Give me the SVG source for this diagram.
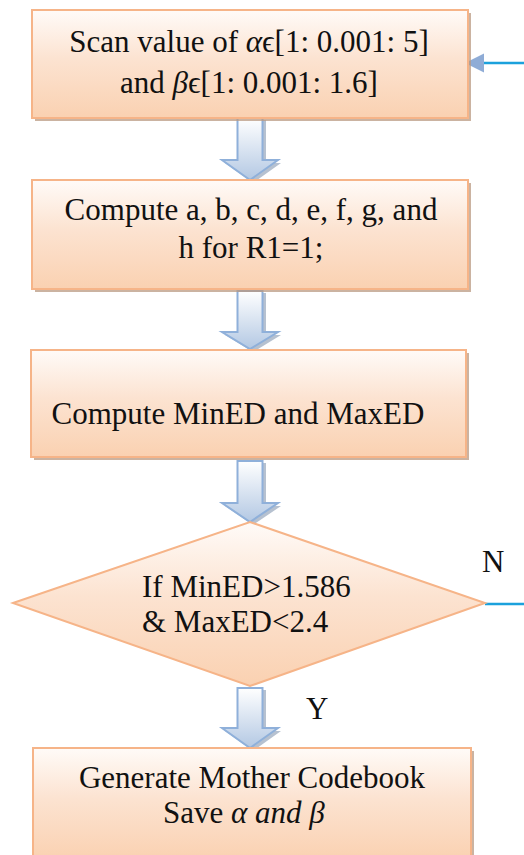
<svg xmlns="http://www.w3.org/2000/svg" width="524" height="855" viewBox="0 0 524 855">
<defs>
<linearGradient id="boxg" x1="0" y1="0" x2="0" y2="1">
<stop offset="0" stop-color="#FFFBF8"/>
<stop offset="0.45" stop-color="#FCE3D1"/>
<stop offset="1" stop-color="#FAD1B1"/>
</linearGradient>
<linearGradient id="arrg" x1="0" y1="0" x2="0" y2="1">
<stop offset="0" stop-color="#FFFFFF"/>
<stop offset="1" stop-color="#B3C8E3"/>
</linearGradient>
<style>
.box{fill:url(#boxg);stroke:#F6B488;stroke-width:2}
.shadow{fill:#B99A82;opacity:0.75}
.arr{fill:url(#arrg);stroke:#8FB0DA;stroke-width:2;stroke-linejoin:miter}
.arrsh{fill:#8597B0;opacity:0.6}
.t{font-family:"Liberation Serif","DejaVu Serif",serif;font-size:31px;fill:#111}
.m{font-family:"Liberation Serif","DejaVu Serif",serif;font-style:italic}
.conn{stroke:#1BA1DC;stroke-width:2.5;fill:none}
</style>
</defs>
<g id="connectors">
<line class="conn" x1="524" y1="63" x2="484" y2="63"/>
<path d="M465,63 L484,53.5 L484,72.5 Z" fill="#8FACD6"/>
<line class="conn" x1="485" y1="604" x2="524" y2="604"/>
<g id="arrow1">
<path class="arrsh" d="M241,120 H266 V163 H281 L253,183 L225,163 H241 Z"/>
<path class="arr" d="M237.5,118 H262.5 V160 H278 L250,180 L222,160 H237.5 Z"/>
</g>
<g id="arrow2">
<path class="arrsh" d="M241,293 H266 V335 H281 L253,352 L225,335 H241 Z"/>
<path class="arr" d="M237.5,291 H262.5 V332 H278 L250,349 L222,332 H237.5 Z"/>
</g>
<g id="arrow3">
<path class="arrsh" d="M241,463 H266 V506 H281 L253,525 L225,506 H241 Z"/>
<path class="arr" d="M237.5,461 H262.5 V503 H278 L250,522 L222,503 H237.5 Z"/>
</g>
<g id="arrow4">
<path class="arrsh" d="M241,690 H266 V731 H281 L253,751 L225,731 H241 Z"/>
<path class="arr" d="M237.5,688 H262.5 V728 H278 L250,748 L222,728 H237.5 Z"/>
</g>
<text class="t" x="482" y="572" font-size="26">N</text>
<text class="t" x="306" y="719" font-size="26">Y</text>
</g>
<g id="node1">
<rect class="shadow" x="35" y="13" width="436" height="108"/>
<rect class="box" x="32" y="10" width="436" height="108"/>
<text class="t" x="249" y="52" text-anchor="middle">Scan value of <tspan class="m">α</tspan>ϵ[1: 0.001: 5]</text>
<text class="t" x="249" y="93" text-anchor="middle">and <tspan class="m">β</tspan>ϵ[1: 0.001: 1.6]</text>
</g>
<g id="node2">
<rect class="shadow" x="35" y="183" width="436" height="109"/>
<rect class="box" x="32" y="180" width="436" height="109"/>
<text class="t" x="251" y="220" text-anchor="middle">Compute a, b, c, d, e, f, g, and</text>
<text class="t" x="251" y="258" text-anchor="middle">h for R1=1;</text>
</g>
<g id="node3">
<rect class="shadow" x="34" y="353" width="435" height="107"/>
<rect class="box" x="31" y="350" width="435" height="107"/>
<text class="t" x="238" y="424" text-anchor="middle">Compute MinED and MaxED</text>
</g>
<g id="node4">
<path class="box" d="M13,603 L250,522 L485,603 L250,686 Z"/>
<text class="t" x="142" y="597" font-size="29">If MinED&gt;1.586</text>
<text class="t" x="142" y="632" font-size="29">&amp; MaxED&lt;2.4</text>
</g>
<g id="node5">
<rect class="shadow" x="36" y="751" width="438" height="112"/>
<rect class="box" x="33" y="748" width="438" height="112"/>
<text class="t" x="252" y="788" text-anchor="middle">Generate Mother Codebook</text>
<text class="t" x="163" y="823">Save  <tspan class="m">α and β</tspan></text>
</g>
</svg>
